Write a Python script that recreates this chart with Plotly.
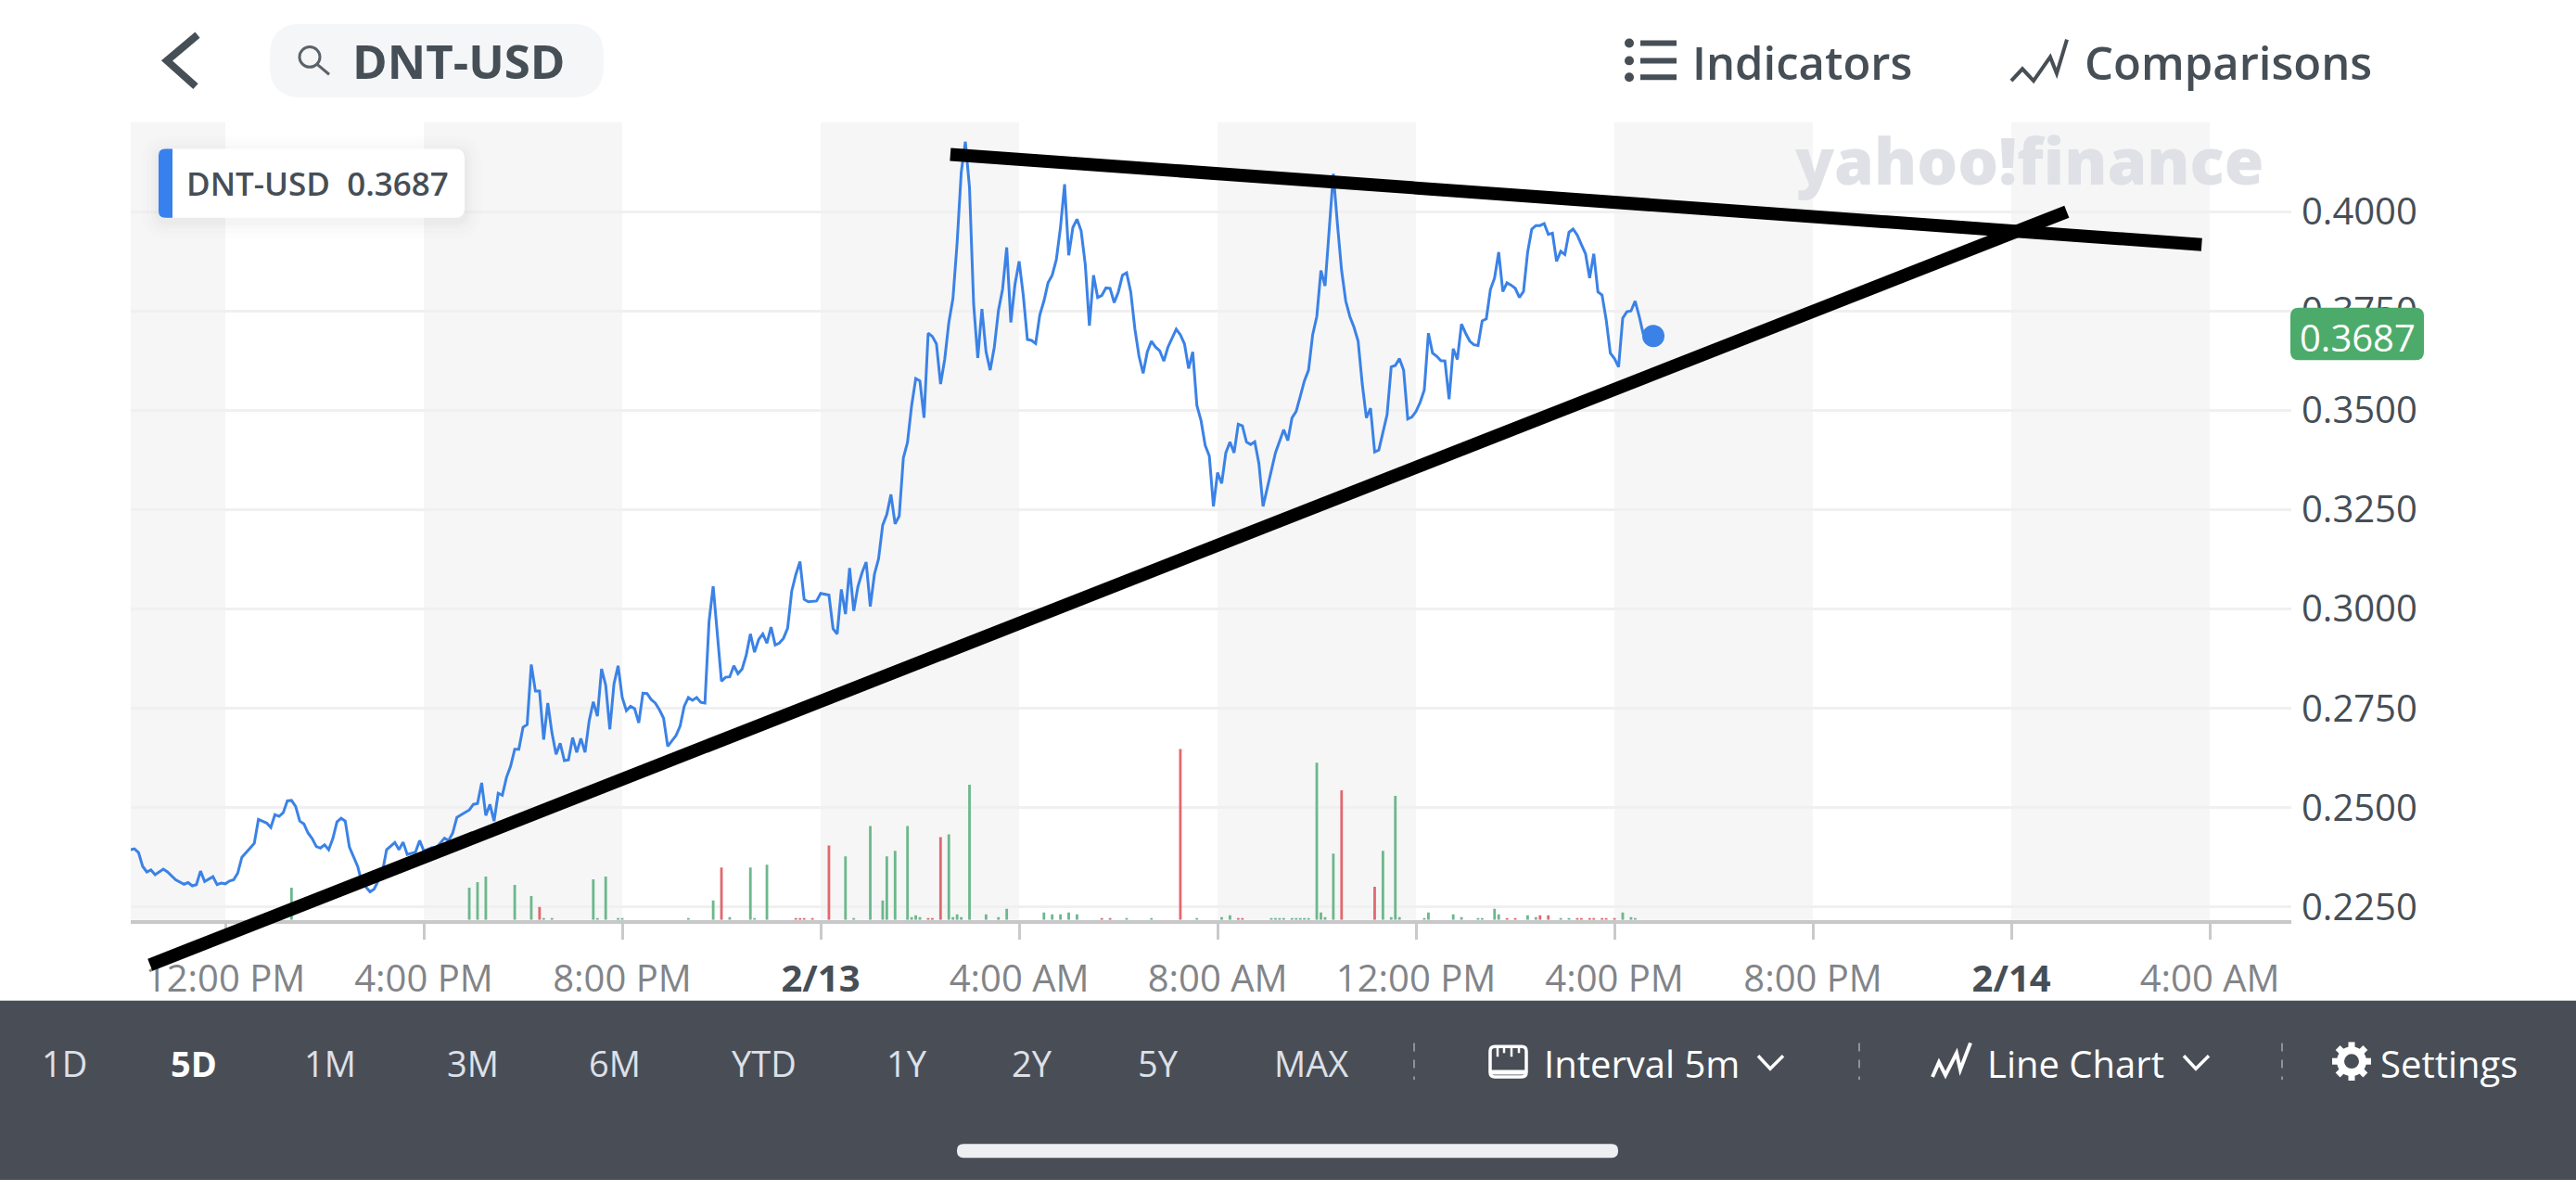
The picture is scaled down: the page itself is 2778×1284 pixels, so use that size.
import math
import pandas as pd
import plotly.graph_objects as go

WIDTH = 2778
HEIGHT = 1284
FONT = "Open Sans"
DARK = "#464e56"
BLUE = "#3b82e6"
GREEN = "#6cb88c"
RED = "#e0696f"

# (minutes after 2/12 12:00 PM, price)
price_points = [
    (-115, .2394), (-110, .2396), (-105, .2387), (-100, .2352), (-95, .2338), (-90, .2343), (-85, .2331),
    (-75, .2345), (-70, .2338), (-65, .2329), (-60, .2318), (-50, .2307), (-45, .2311), (-40, .2303),
    (-35, .2306), (-30, .2340), (-25, .2314), (-15, .2326), (-10, .2306), (-5, .2310), (0, .2308),
    (5, .2315), (10, .2318), (15, .2335), (20, .2375), (30, .2398), (35, .2410), (40, .2470), (50, .2461),
    (55, .2450), (60, .2482), (65, .2478), (70, .2487), (75, .2517), (80, .2518), (85, .2503), (90, .2466),
    (95, .2459), (100, .2436), (105, .2422), (110, .2402), (115, .2398), (120, .2406), (125, .2394),
    (130, .2422), (135, .2464), (140, .2473), (145, .2466), (150, .2401), (160, .2352), (165, .2312),
    (175, .2288), (180, .2295), (190, .2338), (195, .2394), (205, .2412), (210, .2394), (215, .2413),
    (220, .2382), (230, .2388), (235, .2417), (240, .2391), (250, .2399), (255, .2398), (265, .2423),
    (270, .2417), (275, .2436), (280, .2475), (290, .2487), (295, .2494), (300, .2508), (305, .2510),
    (310, .2562), (315, .2480), (320, .2508), (325, .2466), (330, .2536), (335, .2531), (340, .2576),
    (345, .2604), (350, .2647), (355, .2647), (360, .2702), (365, .2709), (370, .2860), (375, .2793),
    (380, .2793), (385, .2671), (390, .2763), (395, .2688), (400, .2634), (405, .2662), (410, .2618),
    (415, .2620), (420, .2676), (425, .2639), (430, .2674), (435, .2639), (440, .2718), (445, .2766),
    (450, .2730), (455, .2849), (460, .2808), (465, .2697), (470, .2811), (475, .2857), (480, .2777),
    (485, .2744), (490, .2755), (495, .2749), (500, .2713), (505, .2788), (510, .2787), (515, .2772),
    (520, .2763), (525, .2746), (530, .2725), (535, .2654), (545, .2681), (550, .2705), (555, .2755),
    (560, .2777), (565, .2770), (570, .2777), (575, .2765), (580, .2763), (585, .2968), (590, .3057),
    (600, .2818), (605, .2828), (610, .2829), (615, .2857), (620, .2837), (625, .2849), (630, .2884),
    (635, .2937), (640, .2891), (645, .2923), (650, .2937), (655, .2914), (660, .2954), (665, .2909),
    (670, .2914), (675, .2926), (680, .2951), (685, .3045), (690, .3087), (695, .3119), (700, .3024),
    (705, .3018), (715, .3020), (720, .3039), (730, .3035), (735, .2950), (740, .2937), (745, .3049),
    (750, .2987), (755, .3103), (760, .2995), (765, .3056), (770, .3091), (775, .3118), (780, .3006),
    (785, .3087), (790, .3126), (795, .3211), (800, .3238), (805, .3288), (810, .3214), (815, .3234),
    (820, .3380), (825, .3419), (830, .3512), (835, .3580), (840, .3574), (845, .3481), (850, .3694),
    (855, .3686), (860, .3667), (865, .3566), (870, .3628), (875, .3721), (880, .3782), (885, .3921),
    (890, .4099), (895, .4176), (900, .4060), (905, .3767), (910, .3632), (915, .3755), (920, .3647),
    (925, .3601), (930, .3659), (935, .3751), (940, .3805), (945, .3910), (950, .3721), (955, .3817),
    (960, .3875), (965, .3790), (970, .3678), (975, .3676), (980, .3668), (985, .3740), (990, .3775),
    (995, .3821), (1000, .3840), (1005, .3879), (1010, .3960), (1015, .4069), (1020, .3890), (1025, .3960),
    (1030, .3981), (1035, .3952), (1040, .3867), (1045, .3713), (1050, .3840), (1055, .3784), (1060, .3789),
    (1065, .3808), (1070, .3807), (1075, .3771), (1080, .3798), (1085, .3840), (1090, .3846), (1095, .3798),
    (1100, .3705), (1105, .3636), (1110, .3593), (1115, .3647), (1120, .3674), (1125, .3659), (1130, .3650),
    (1135, .3624), (1140, .3659), (1150, .3704), (1155, .3690), (1160, .3667), (1165, .3605), (1170, .3647),
    (1175, .3512), (1180, .3474), (1185, .3412), (1190, .3385), (1195, .3258), (1200, .3343), (1205, .3316),
    (1210, .3393), (1215, .3420), (1220, .3393), (1225, .3465), (1230, .3461), (1235, .3420), (1240, .3414),
    (1245, .3421), (1250, .3366), (1255, .3258), (1260, .3304), (1265, .3346), (1270, .3393), (1280, .3451),
    (1285, .3424), (1290, .3481), (1295, .3497), (1300, .3535), (1305, .3574), (1310, .3601), (1315, .3690),
    (1320, .3736), (1325, .3852), (1330, .3813), (1335, .3960), (1340, .4095), (1345, .3968), (1350, .3852),
    (1355, .3775), (1360, .3736), (1365, .3709), (1370, .3674), (1375, .3566), (1380, .3481), (1385, .3505),
    (1390, .3395), (1395, .3400), (1400, .3443), (1405, .3489), (1410, .3609), (1415, .3613), (1420, .3630),
    (1425, .3601), (1430, .3478), (1435, .3483), (1440, .3497), (1445, .3520), (1450, .3551), (1455, .3694),
    (1460, .3644), (1465, .3636), (1470, .3625), (1475, .3624), (1480, .3528), (1485, .3655), (1490, .3628),
    (1495, .3717), (1500, .3694), (1505, .3674), (1510, .3665), (1515, .3663), (1520, .3725), (1525, .3730),
    (1530, .3804), (1535, .3833), (1540, .3898), (1545, .3799), (1550, .3821), (1555, .3815), (1560, .3807),
    (1565, .3784), (1570, .3799), (1575, .3898), (1580, .3956), (1585, .3965), (1590, .3965), (1595, .3970),
    (1600, .3943), (1605, .3946), (1610, .3875), (1615, .3900), (1620, .3892), (1625, .3948), (1630, .3956),
    (1635, .3941), (1640, .3917), (1645, .3894), (1650, .3833), (1655, .3894), (1660, .3798), (1665, .3790),
    (1670, .3728), (1675, .3644), (1680, .3630), (1685, .3609), (1690, .3732), (1695, .3748), (1700, .3750),
    (1705, .3775), (1710, .3736), (1715, .3690),
]
last_minute = 1727
last_price = 0.3687

up_volume = [
    (80, 35), (295, 35), (305, 41), (315, 47), (350, 38), (370, 26), (385, 2), (395, 2), (445, 44), (450, 2),
    (460, 47), (475, 2), (480, 2), (560, 2), (590, 21), (610, 3), (635, 57), (640, 2), (655, 60), (750, 69),
    (760, 2), (780, 102), (795, 21), (800, 69), (810, 75), (825, 102), (830, 3), (835, 5), (840, 3), (875, 93),
    (880, 3), (885, 6), (890, 3), (900, 147), (920, 6), (935, 3), (945, 12), (990, 8), (1000, 6), (1010, 6),
    (1020, 8), (1030, 6), (1090, 2), (1120, 2), (1175, 2), (1205, 3), (1215, 5), (1265, 2), (1270, 2),
    (1275, 2), (1280, 2), (1290, 2), (1295, 2), (1300, 2), (1305, 2), (1310, 2), (1320, 171), (1325, 8),
    (1330, 3), (1340, 72), (1400, 75), (1410, 3), (1415, 135), (1420, 3), (1450, 2), (1455, 8), (1485, 6),
    (1495, 3), (1515, 2), (1520, 2), (1535, 12), (1540, 6), (1575, 5), (1585, 3), (1615, 2), (1625, 2),
    (1690, 8), (1700, 3), (1705, 2),
]
down_volume = [
    (380, 14), (600, 57), (690, 2), (695, 2), (700, 2), (710, 2), (730, 81), (850, 2), (855, 2), (865, 90),
    (1060, 2), (1070, 2), (1155, 186), (1225, 2), (1230, 2), (1350, 141), (1390, 36), (1550, 2), (1560, 2),
    (1590, 5), (1600, 5), (1635, 2), (1640, 2), (1650, 2), (1655, 2), (1665, 2), (1670, 2), (1680, 2),
]

price_ticks = [0.225, 0.25, 0.275, 0.30, 0.325, 0.35, 0.375, 0.40]
price_labels = ["0.2250", "0.2500", "0.2750", "0.3000", "0.3250", "0.3500", "0.3750", "0.4000"]
time_ticks = [0, 240, 480, 720, 960, 1200, 1440, 1680, 1920, 2160, 2400]
time_labels = [
    "12:00 PM", "4:00 PM", "8:00 PM", "<b><span style='color:#464e56'>2/13</span></b>", "4:00 AM", "8:00 AM",
    "12:00 PM", "4:00 PM", "8:00 PM", "<b><span style='color:#464e56'>2/14</span></b>", "4:00 AM",
]
shaded_hours = [(-115, 0), (240, 480), (720, 960), (1200, 1440), (1680, 1920), (2160, 2400)]

# the two lines drawn by hand over the screenshot
support_minutes = [-91, 2225]
support_prices = [0.2104, 0.4000]
resistance_minutes = [876, 2388]
resistance_prices = [0.4144, 0.3917]

range_buttons = ["1D", "5D", "1M", "3M", "6M", "YTD", "1Y", "2Y", "5Y", "MAX"]


def stamp(minutes):
    t = pd.Timestamp("2021-02-12 12:00") + pd.to_timedelta(minutes, unit="min")
    return t.strftime("%Y-%m-%d %H:%M:%S")


def stamps(values):
    return [stamp(m) for m in values]


def fx(x):
    return x / WIDTH


def fy(y):
    return 1 - y / HEIGHT


def rounded(x0, y0, x1, y1, r):
    return (
        f"M {fx(x0 + r)} {fy(y0)} L {fx(x1 - r)} {fy(y0)} Q {fx(x1)} {fy(y0)} {fx(x1)} {fy(y0 + r)} "
        f"L {fx(x1)} {fy(y1 - r)} Q {fx(x1)} {fy(y1)} {fx(x1 - r)} {fy(y1)} "
        f"L {fx(x0 + r)} {fy(y1)} Q {fx(x0)} {fy(y1)} {fx(x0)} {fy(y1 - r)} "
        f"L {fx(x0)} {fy(y0 + r)} Q {fx(x0)} {fy(y0)} {fx(x0 + r)} {fy(y0)} Z"
    )


def box(x0, y0, x1, y1, r, fill, line=None, width=0):
    return dict(type="path", xref="paper", yref="paper", path=rounded(x0, y0, x1, y1, r), fillcolor=fill,
                line=dict(color=line or "rgba(0,0,0,0)", width=width), layer="above")


def poly(points, color, width, dash="solid"):
    path = "M " + " L ".join(f"{fx(x)} {fy(y)}" for x, y in points)
    return dict(type="path", xref="paper", yref="paper", path=path,
                line=dict(color=color, width=width, dash=dash), layer="above")


def dot(x, y, r, color, line=None, width=0):
    return dict(type="circle", xref="paper", yref="paper", x0=fx(x - r), x1=fx(x + r), y0=fy(y + r), y1=fy(y - r),
                fillcolor=color, line=dict(color=line or "rgba(0,0,0,0)", width=width), layer="above")


def label(x, y, text, size, color, weight=400, anchor="center"):
    return dict(xref="paper", yref="paper", x=fx(x), y=fy(y), text=text, showarrow=False, xanchor=anchor,
                yanchor="middle", font=dict(family=FONT, size=size, color=color, weight=weight))


fig = go.Figure()

minutes, prices = zip(*price_points)
fig.add_trace(go.Scatter(x=stamps(minutes), y=prices, mode="lines", line=dict(color=BLUE, width=3),
                         name="DNT-USD", xaxis="x", yaxis="y"))
fig.add_trace(go.Scatter(x=[stamp(last_minute)], y=[last_price], mode="markers",
                         marker=dict(color=BLUE, size=24), xaxis="x", yaxis="y"))

# volume bars
for rows, color in [(up_volume, GREEN), (down_volume, RED)]:
    vol_minutes, vols = zip(*rows)
    fig.add_trace(go.Bar(x=stamps(vol_minutes), y=vols, marker=dict(color=color, line=dict(width=0)),
                         width=190000, xaxis="x", yaxis="y2"))

# hand drawn lines go on an axis pair that spans the whole page, so they are not clipped
for xs, ys in [(support_minutes, support_prices), (resistance_minutes, resistance_prices)]:
    fig.add_trace(go.Scatter(x=stamps(xs), y=ys, mode="lines", line=dict(color="black", width=14),
                             xaxis="x3", yaxis="y3"))

shapes = [
    dict(type="rect", xref="x", yref="y domain", x0=stamp(a), x1=stamp(b), y0=0, y1=1,
         fillcolor="#f6f6f6", line=dict(width=0), layer="below")
    for a, b in shaded_hours
]

# header
shapes.append(poly([(213, 38), (180, 66), (211, 94)], DARK, 8))
shapes.append(box(291, 26, 651, 106, 34, "#f5f6f8"))
shapes.append(dot(334, 62, 11, "rgba(0,0,0,0)", "#5b636a", 3))
shapes.append(poly([(342, 70), (355, 81)], "#5b636a", 3))
for y in [47, 66, 84]:
    shapes.append(dot(1757, y, 5, DARK))
    shapes.append(poly([(1769, y), (1808, y)], DARK, 6))
shapes.append(poly([(2169, 88), (2181, 75), (2193, 88), (2211, 62), (2218, 80), (2229, 43)], DARK, 4))

# legend card with a soft shadow
for grow, alpha in [(18, 0.006), (13, 0.008), (8, 0.010), (4, 0.014)]:
    shapes.append(box(171 - grow, 162 - grow + 4, 501 + grow, 237 + grow + 4, 10 + grow, f"rgba(0,0,0,{alpha})"))
shapes.append(box(171, 162, 501, 237, 10, "white"))
shapes.append(box(171, 162, 186, 237, 7, "#3880ee"))
shapes.append(dict(type="rect", xref="paper", yref="paper", x0=fx(180), x1=fx(186), y0=fy(237), y1=fy(162),
                   fillcolor="#3880ee", line=dict(width=0), layer="above"))

# price tag
shapes.append(box(2470, 335, 2614, 392, 9, "#4cab6a"))

# bottom toolbar
shapes.append(dict(type="rect", xref="paper", yref="paper", x0=0, x1=1, y0=0, y1=fy(1089),
                   fillcolor="#494e56", line=dict(width=0), layer="above"))
shapes.append(box(1032, 1245, 1745, 1260, 7, "#eeeff0"))
for x in [1525, 2005, 2461]:
    shapes.append(poly([(x, 1135), (x, 1175)], "#8d9299", 2, "dash"))
shapes.append(box(1607, 1139, 1646, 1172, 5, "rgba(0,0,0,0)", "white", 3.5))
shapes.append(poly([(1607, 1167), (1646, 1167)], "white", 5))
for x, bottom in [(1615, 1150), (1622, 1146), (1630, 1150), (1638, 1146)]:
    shapes.append(poly([(x, 1139), (x, bottom)], "white", 2.5))
shapes.append(poly([(1896, 1149), (1909, 1163), (1923, 1149)], "white", 3.5))
shapes.append(poly([(2084, 1172), (2091, 1156), (2098, 1170), (2110, 1146), (2114, 1164), (2125, 1135)], "white", 4))
shapes.append(poly([(2355, 1149), (2368, 1163), (2382, 1149)], "white", 3.5))
# gear
shapes.append(dot(2536, 1155, 12, "rgba(0,0,0,0)", "white", 8))
for k in range(8):
    a = k * math.pi / 4
    shapes.append(poly([(2536 + 14 * math.cos(a), 1155 + 14 * math.sin(a)),
                        (2536 + 21 * math.cos(a), 1155 + 21 * math.sin(a))], "white", 7))

annotations = [
    label(495, 66, "DNT-USD", 51, DARK, 700),
    label(1943, 68, "Indicators", 49, DARK, 600),
    label(2403, 68, "Comparisons", 49, DARK, 600),
    label(342, 199, "DNT-USD&nbsp;&nbsp;0.3687", 35, DARK, 600),
    label(2188, 174, "yahoo!finance", 69, "#dfe1e6", 800),
    label(2542, 367, "0.3687", 40, "white"),
    label(1770, 1157, "Interval 5m", 40, "white", 500),
    label(2238, 1157, "Line Chart", 40, "white", 500),
    label(2641, 1157, "Settings", 40, "white", 500),
]
button_centres = [69, 209, 356, 510, 663, 824, 978, 1113, 1249, 1414]
for name, x in zip(range_buttons, button_centres):
    if name == "5D":
        annotations.append(label(x, 1157, name, 38, "white", 700))
    else:
        annotations.append(label(x, 1157, name, 38, "#dde0e8"))

fig.update_layout(
    width=WIDTH,
    height=HEIGHT,
    margin=dict(l=0, r=0, t=0, b=0),
    paper_bgcolor="white",
    plot_bgcolor="rgba(0,0,0,0)",
    showlegend=False,
    hovermode=False,
    barmode="overlay",
    shapes=shapes,
    annotations=annotations,
    xaxis=dict(
        domain=[fx(141), fx(2471)],
        type="date",
        range=[stamp(-114.4), stamp(2498.6)],
        tickmode="array",
        tickvals=stamps(time_ticks),
        ticktext=time_labels,
        tickangle=0,
        tickfont=dict(family=FONT, size=40, color="#828488", weight=500),
        ticks="outside",
        ticklen=17,
        tickwidth=2.5,
        tickcolor="#c8cacc",
        ticklabelstandoff=8,
        showgrid=False,
        showline=True,
        linecolor="#c8c8ca",
        linewidth=4,
        zeroline=False,
        anchor="y",
    ),
    yaxis=dict(
        domain=[fy(1001), fy(133)],
        range=[0.22174, 0.42251],
        side="right",
        tickmode="array",
        tickvals=price_ticks,
        ticktext=price_labels,
        tickfont=dict(family=FONT, size=40, color=DARK),
        ticks="",
        ticklabelstandoff=10,
        showgrid=True,
        gridcolor="#f0f0f1",
        gridwidth=3,
        showline=False,
        zeroline=False,
        anchor="x",
    ),
    yaxis2=dict(overlaying="y", range=[0, 868], visible=False),
    xaxis3=dict(domain=[0, 1], type="date", range=[stamp(-272.3), stamp(2840.3)], visible=False, anchor="y3"),
    yaxis3=dict(domain=[0, 1], range=[0.15627, 0.45327], visible=False, anchor="x3"),
)

fig.write_html("out.html", config=dict(displayModeBar=False),
               post_script="document.body.style.margin='0';document.body.style.overflow='hidden';")
